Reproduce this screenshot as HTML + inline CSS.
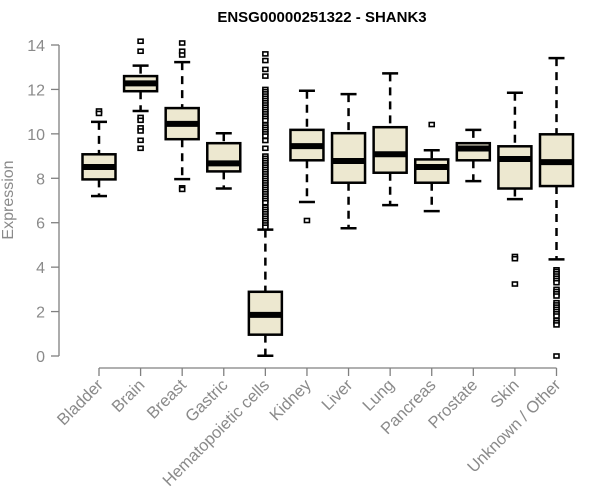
<!DOCTYPE html>
<html><head><meta charset="utf-8"><style>
body{margin:0;background:#fff}
svg{display:block;font-family:"Liberation Sans",sans-serif}
</style></head><body>
<svg id="chart" width="600" height="500">
<text x="322" y="22" text-anchor="middle" font-size="15" font-weight="bold" fill="#000">ENSG00000251322 - SHANK3</text>
<text transform="translate(13,200) rotate(-90)" text-anchor="middle" font-size="16" fill="#8a8a8a">Expression</text>
<g id="yaxis"></g>
<g id="xaxis"></g>
<g id="boxes"></g>
</svg>
<script>
const categories=["Bladder","Brain","Breast","Gastric","Hematopoietic cells","Kidney","Liver","Lung","Pancreas","Prostate","Skin","Unknown / Other"];
const whiskerLow=[7.20,11.03,7.96,7.54,0.01,6.93,5.75,6.79,6.52,7.87,7.06,4.35];
const q1=[7.95,11.92,9.76,8.31,0.96,8.81,7.80,8.25,7.80,8.81,7.54,7.65];
const medians=[8.51,12.27,10.45,8.67,1.85,9.45,8.78,9.08,8.51,9.34,8.87,8.73];
const q3=[9.08,12.60,11.16,9.58,2.89,10.18,10.03,10.30,8.85,9.58,9.44,9.98];
const whiskerHigh=[10.54,13.07,13.23,10.03,5.69,11.94,11.79,12.72,9.26,10.18,11.85,13.41];
const outliers=[
 [11.03,10.92],
 [14.17,13.72,10.74,10.61,10.27,10.13,9.71,9.35],
 [14.09,13.72,13.55,7.57,7.50],
 [],
 [13.6,13.3,12.9,12.6,12.0,11.9,11.8,11.7,11.6,11.5,11.4,11.3,11.2,11.1,11.0,10.9,10.8,10.7,10.6,10.4,10.3,10.2,10.1,10.0,9.9,9.7,9.35,9.0,8.9,8.8,8.7,8.6,8.5,8.4,8.3,8.2,8.1,8.0,7.9,7.8,7.7,7.6,7.5,7.4,7.3,7.2,7.1,7.0,6.9,6.7,6.6,6.5,6.4,6.3,6.2,6.1,6.0,5.9,5.8],
 [6.10],[],[],[10.42],[],
 [4.48,4.38,3.24],
 [3.88,3.8,3.7,3.6,3.5,3.4,3.3,3.0,2.9,2.8,2.7,2.4,2.3,2.2,2.1,2.0,1.9,1.8,1.6,1.5,1.4,0.0]
];
const yTicks=[0,2,4,6,8,10,12,14];
const NS="http://www.w3.org/2000/svg";
const y=v=>356-v*(311/14);
const x=i=>99+i*(457.5/11);
function mk(tag,attrs,parent){const e=document.createElementNS(NS,tag);for(const k in attrs)e.setAttribute(k,attrs[k]);parent.appendChild(e);return e;}
const ya=document.getElementById('yaxis'),xa=document.getElementById('xaxis'),bx=document.getElementById('boxes');
mk('line',{x1:59,x2:59,y1:y(0),y2:y(14),stroke:'#808080','stroke-width':1.3},ya);
yTicks.forEach(t=>{
 mk('line',{x1:51,x2:59,y1:y(t),y2:y(t),stroke:'#808080','stroke-width':1.3},ya);
 const tx=mk('text',{x:45,y:y(t)+6,'text-anchor':'end','font-size':16,fill:'#8a8a8a'},ya);
 
 
 tx.textContent=t;
});
mk('line',{x1:x(0),x2:x(11),y1:368,y2:368,stroke:'#808080','stroke-width':1.3},xa);
categories.forEach((c,i)=>{
 mk('line',{x1:x(i),x2:x(i),y1:368,y2:376,stroke:'#808080','stroke-width':1.3},xa);
 const tx=mk('text',{transform:`translate(${x(i)+5},${386}) rotate(-45)`,'text-anchor':'end','font-size':16.5,fill:'#8a8a8a'},xa);
 
 
 tx.textContent=c;
});
categories.forEach((c,i)=>{
 const g=mk('g',{},bx);
 
 
 const cx=x(i),hw=16.5,cap=8;
 mk('line',{x1:cx,x2:cx,y1:y(whiskerHigh[i]),y2:y(q3[i]),stroke:'#000','stroke-width':2.5,'stroke-dasharray':'8,6'},g);
 mk('line',{x1:cx,x2:cx,y1:y(q1[i]),y2:y(whiskerLow[i]),stroke:'#000','stroke-width':2.5,'stroke-dasharray':'8,6'},g);
 mk('line',{x1:cx-cap,x2:cx+cap,y1:y(whiskerHigh[i]),y2:y(whiskerHigh[i]),stroke:'#000','stroke-width':2.5},g);
 mk('line',{x1:cx-cap,x2:cx+cap,y1:y(whiskerLow[i]),y2:y(whiskerLow[i]),stroke:'#000','stroke-width':2.5},g);
 mk('rect',{x:cx-hw,y:y(q3[i]),width:2*hw,height:y(q1[i])-y(q3[i]),fill:'#ede8d0',stroke:'#000','stroke-width':2.5},g);
 mk('line',{x1:cx-hw,x2:cx+hw,y1:y(medians[i]),y2:y(medians[i]),stroke:'#000','stroke-width':6},g);
 outliers[i].forEach(v=>{
  const p=mk('rect',{x:cx-2.5,y:y(v)-2,width:5,height:4,fill:'#fff',stroke:'#000','stroke-width':1.6},g);
  
  
 });
});
</script>
</body></html>
